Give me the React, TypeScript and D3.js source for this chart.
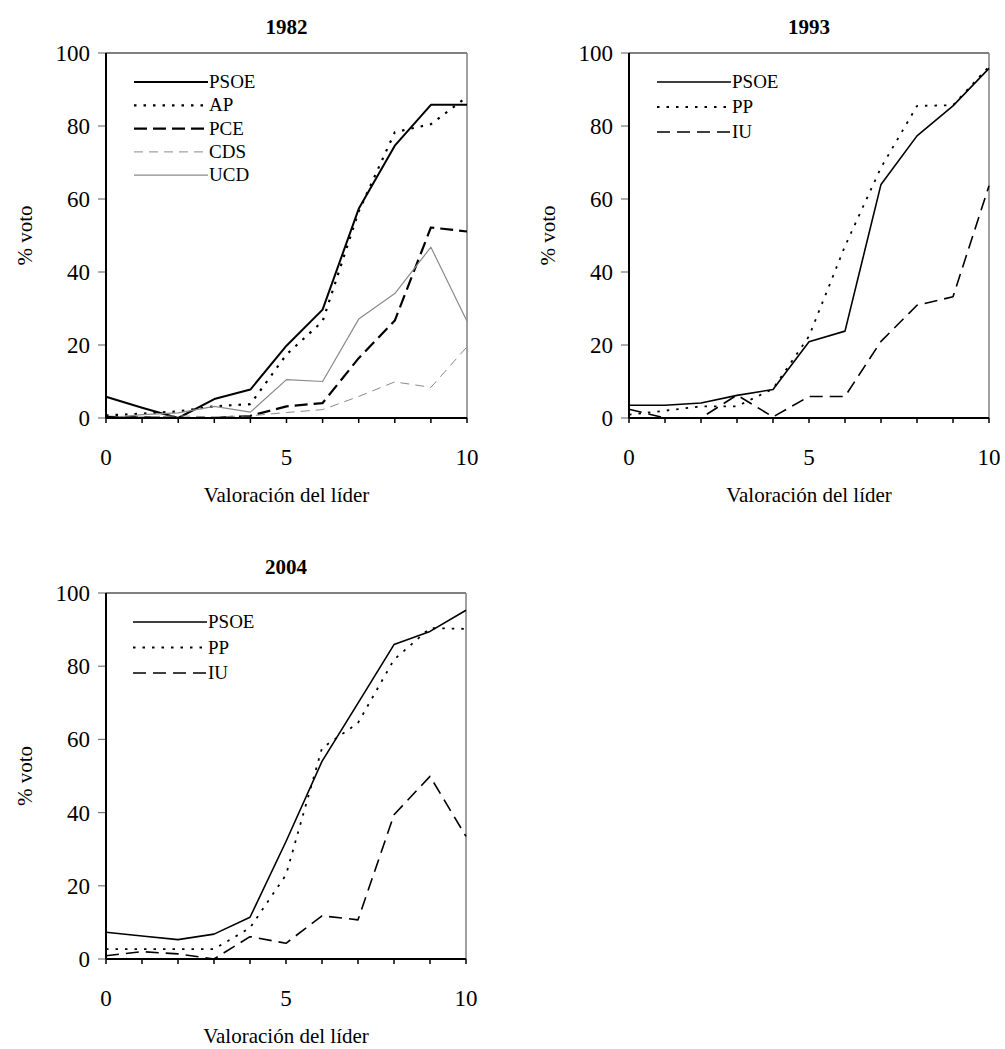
import React from "react";
import * as d3 from "d3";

const scores = [0, 1, 2, 3, 4, 5, 6, 7, 8, 9, 10];
const xTickLabels = [0, 5, 10];
const yTicks = [0, 20, 40, 60, 80, 100];

const psoe1982 = [5.8, 2.8, 0, 5.2, 7.8, 19.8, 29.7, 57.3, 74.6, 85.8, 85.8];
const ap1982 = [0.7, 1.2, 1.8, 3.2, 3.8, 17.4, 26.5, 56.6, 78.3, 80.5, 88.0];
const pce1982 = [0.3, 0.2, 0, 0, 0.6, 3.2, 4.1, 16.4, 26.7, 52.2, 51.1];
const cds1982 = [0, 0.3, 0.6, 0.3, 0.6, 1.5, 2.3, 5.9, 9.9, 8.4, 19.5];
const ucd1982 = [0, 0.9, 1.4, 3.2, 1.6, 10.5, 10.0, 27.1, 34.1, 46.8, 26.5];

const psoe1993 = [3.5, 3.5, 4.1, 6.2, 7.8, 20.9, 23.8, 64.0, 77.3, 85.5, 95.8];
const pp1993 = [0.9, 2.0, 3.2, 3.2, 8.0, 22.4, 47.1, 68.6, 85.5, 85.7, 96.3];
const iu1993 = [2.4, 0, 0, 6.3, 0.3, 5.9, 5.9, 21.0, 30.9, 33.2, 63.6];

const psoe2004 = [7.3, 6.3, 5.3, 6.8, 11.4, 32.1, 54.0, 69.9, 85.9, 89.5, 95.3];
const pp2004 = [2.7, 2.7, 2.7, 2.7, 8.5, 23.0, 57.6, 64.5, 81.8, 90.4, 90.2];
const iu2004 = [0.9, 2.0, 1.4, 0, 6.1, 4.3, 11.8, 10.7, 39.4, 49.9, 33.5];

const FONT = "'Liberation Serif', 'Times New Roman', serif";

type Style = { stroke: string; width: number; dash?: string };
type Series = { name: string; values: number[]; style: Style };

const solid: Style = { stroke: "#000", width: 2 };
const dotted: Style = { stroke: "#000", width: 2.2, dash: "2.5,7" };
const dashedBold: Style = { stroke: "#000", width: 2.2, dash: "13,6" };
const greyDashed: Style = { stroke: "#8a8a8a", width: 1, dash: "9,6" };
const greySolid: Style = { stroke: "#8a8a8a", width: 1.2 };
const solidThin: Style = { stroke: "#000", width: 1.6 };
const dottedThin: Style = { stroke: "#000", width: 1.8, dash: "2.5,7" };
const dashedThin: Style = { stroke: "#000", width: 1.6, dash: "13,7" };

type PanelProps = {
  title: string;
  left: number;
  top: number;
  width: number;
  height: number;
  series: Series[];
  legendX: number;
  legendY: number;
  legendGap: number;
};

function Panel({ title, left, top, width, height, series, legendX, legendY, legendGap }: PanelProps) {
  const x = d3.scaleLinear().domain([0, 10]).range([left, left + width]);
  const y = d3.scaleLinear().domain([0, 100]).range([top + height, top]);
  const line = d3
    .line<number>()
    .x((_, i) => x(scores[i]))
    .y((d) => y(d));
  const bottom = top + height;
  const right = left + width;
  return (
    <g>
      <text x={(left + right) / 2} y={top - 19} textAnchor="middle" fontFamily={FONT} fontWeight="bold" fontSize={21}>
        {title}
      </text>
      <line x1={left} x2={right} y1={top} y2={top} stroke="#000" strokeWidth={1} />
      <line x1={right} x2={right} y1={top} y2={bottom} stroke="#808080" strokeWidth={1.5} />
      {series.map((s) => (
        <path
          key={s.name}
          d={line(s.values) || ""}
          fill="none"
          stroke={s.style.stroke}
          strokeWidth={s.style.width}
          strokeDasharray={s.style.dash}
          strokeLinejoin="round"
        />
      ))}
      {yTicks.map((t) => (
        <g key={"y" + t}>
          <line x1={left - 8} x2={left} y1={y(t)} y2={y(t)} stroke="#777" strokeWidth={1.2} />
          <text x={left - 16} y={y(t) + 8} textAnchor="end" fontFamily={FONT} fontSize={23}>
            {t}
          </text>
        </g>
      ))}
      <line x1={left} x2={left} y1={top} y2={bottom} stroke="#000" strokeWidth={2} />
      {scores.map((t) => (
        <line key={"x" + t} x1={x(t)} x2={x(t)} y1={bottom} y2={bottom + 5} stroke="#000" strokeWidth={1.5} />
      ))}
      {xTickLabels.map((t) => (
        <text key={"xl" + t} x={x(t)} y={bottom + 47} textAnchor="middle" fontFamily={FONT} fontSize={23}>
          {t}
        </text>
      ))}
      <line x1={left} x2={right} y1={bottom} y2={bottom} stroke="#000" strokeWidth={2} />
      <text x={(left + right) / 2} y={bottom + 84} textAnchor="middle" fontFamily={FONT} fontSize={21}>
        Valoración del líder
      </text>
      <text
        transform={`translate(${left - 74},${(top + bottom) / 2}) rotate(-90)`}
        textAnchor="middle"
        fontFamily={FONT}
        fontSize={21}
      >
        % voto
      </text>
      {series.map((s, i) => {
        const ly = legendY + i * legendGap;
        return (
          <g key={"lg" + s.name}>
            <line
              x1={legendX}
              x2={legendX + 74}
              y1={ly}
              y2={ly}
              stroke={s.style.stroke}
              strokeWidth={s.style.width}
              strokeDasharray={s.style.dash}
            />
            <text x={legendX + 75} y={ly + 6} fontFamily={FONT} fontSize={19}>
              {s.name}
            </text>
          </g>
        );
      })}
    </g>
  );
}

export default function App() {
  return (
    <svg
      width={1005}
      height={1049}
      style={{ position: "absolute", left: 0, top: 0, background: "#fff" }}
    >
      <rect width={1005} height={1049} fill="#fff" />
      <Panel
        title="1982"
        left={106}
        top={53}
        width={361}
        height={365}
        legendX={134}
        legendY={82}
        legendGap={23.3}
        series={[
          { name: "PSOE", values: psoe1982, style: solid },
          { name: "AP", values: ap1982, style: dotted },
          { name: "PCE", values: pce1982, style: dashedBold },
          { name: "CDS", values: cds1982, style: greyDashed },
          { name: "UCD", values: ucd1982, style: greySolid },
        ]}
      />
      <Panel
        title="1993"
        left={629}
        top={53}
        width={360}
        height={365}
        legendX={657}
        legendY={82}
        legendGap={25}
        series={[
          { name: "PSOE", values: psoe1993, style: solidThin },
          { name: "PP", values: pp1993, style: dottedThin },
          { name: "IU", values: iu1993, style: dashedThin },
        ]}
      />
      <Panel
        title="2004"
        left={106}
        top={593}
        width={360}
        height={366}
        legendX={133}
        legendY={622}
        legendGap={25.5}
        series={[
          { name: "PSOE", values: psoe2004, style: solidThin },
          { name: "PP", values: pp2004, style: dottedThin },
          { name: "IU", values: iu2004, style: dashedThin },
        ]}
      />
    </svg>
  );
}
